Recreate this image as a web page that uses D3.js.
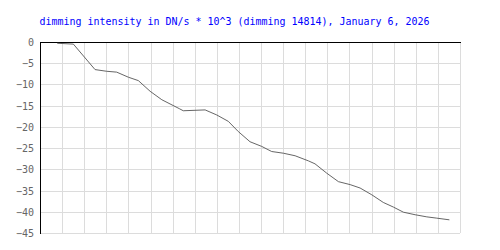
<!DOCTYPE html>
<html><head><meta charset="utf-8">
<script src="https://cdn.jsdelivr.net/npm/d3@7"></script>
<style>body{margin:0;background:#fff}svg{display:block}</style>
</head><body>
<script>
const title = "dimming intensity in DN/s * 10^3 (dimming 14814), January 6, 2026";
const times = [0.78,1.51,2.49,3.02,3.47,4.0,4.45,4.98,5.51,6.30,6.48,7.47,8.0,8.52,8.97,9.50,10.03,10.48,11.01,11.54,12.14,12.44,12.97,13.50,14.03,14.48,15.01,15.53,15.99,16.44,16.97,17.50,17.95,18.52];
const values = [-0.3,-0.5,-6.5,-6.9,-7.1,-8.3,-9.1,-11.6,-13.6,-15.7,-16.2,-16.0,-17.2,-18.7,-21.1,-23.5,-24.6,-25.8,-26.2,-26.8,-28.0,-28.7,-30.9,-32.9,-33.6,-34.4,-36.0,-37.8,-38.9,-40.1,-40.7,-41.2,-41.5,-41.9];
const yTicks = [0,-5,-10,-15,-20,-25,-30,-35,-40,-45];
const xGrid = d3.range(0, 20, 1);

const W = 500, H = 250;
const m = {left:40, top:42, right:40, bottom:17};
const svg = d3.select("body").append("svg").attr("width", W).attr("height", H);
const x = d3.scaleLinear().domain([0,19]).range([m.left, W - m.right]);
const y = d3.scaleLinear().domain([0,-45]).range([m.top, H - m.bottom]);

svg.append("text").attr("x", 39.5).attr("y", 25)
  .attr("font-family", "DejaVu Sans Mono, monospace").attr("font-size", 9.6)
  .attr("fill", "#0000ff").attr("textLength", 390).attr("lengthAdjust","spacingAndGlyphs")
  .text(title);

const g = svg.append("g").attr("shape-rendering","crispEdges");
g.selectAll("line.vx").data(xGrid.slice(1)).join("line")
  .attr("x1", d => Math.round(x(d)) + 0.5).attr("x2", d => Math.round(x(d)) + 0.5)
  .attr("y1", y(0)).attr("y2", y(-45)).attr("stroke", "#dcdcdc").attr("stroke-width", 1);
g.selectAll("line.hy").data(yTicks.slice(1)).join("line")
  .attr("y1", d => Math.round(y(d)) + 0.5).attr("y2", d => Math.round(y(d)) + 0.5)
  .attr("x1", x(0)).attr("x2", x(19)).attr("stroke", "#dcdcdc").attr("stroke-width", 1);

// axes borders
g.append("line").attr("x1", x(0)).attr("x2", x(19)+1).attr("y1", y(0)+0.5).attr("y2", y(0)+0.5).attr("stroke","#000");
g.append("line").attr("x1", x(0)+0.5).attr("x2", x(0)+0.5).attr("y1", y(0)).attr("y2", y(-45)+1).attr("stroke","#000");

svg.selectAll("text.yt").data(yTicks).join("text")
  .attr("x", 34).attr("y", d => y(d) + 4)
  .attr("text-anchor","end").attr("font-family","DejaVu Sans Mono, monospace")
  .attr("font-size", 10).attr("fill","#666")
  .text(d => d < 0 ? "\u2212" + Math.abs(d) : String(d));

const line = d3.line().x((d,i) => x(times[i])).y(d => y(d));
svg.append("path").datum(values).attr("d", line)
  .attr("fill","none").attr("stroke","#555").attr("stroke-width",0.9);
</script>
</body></html>
